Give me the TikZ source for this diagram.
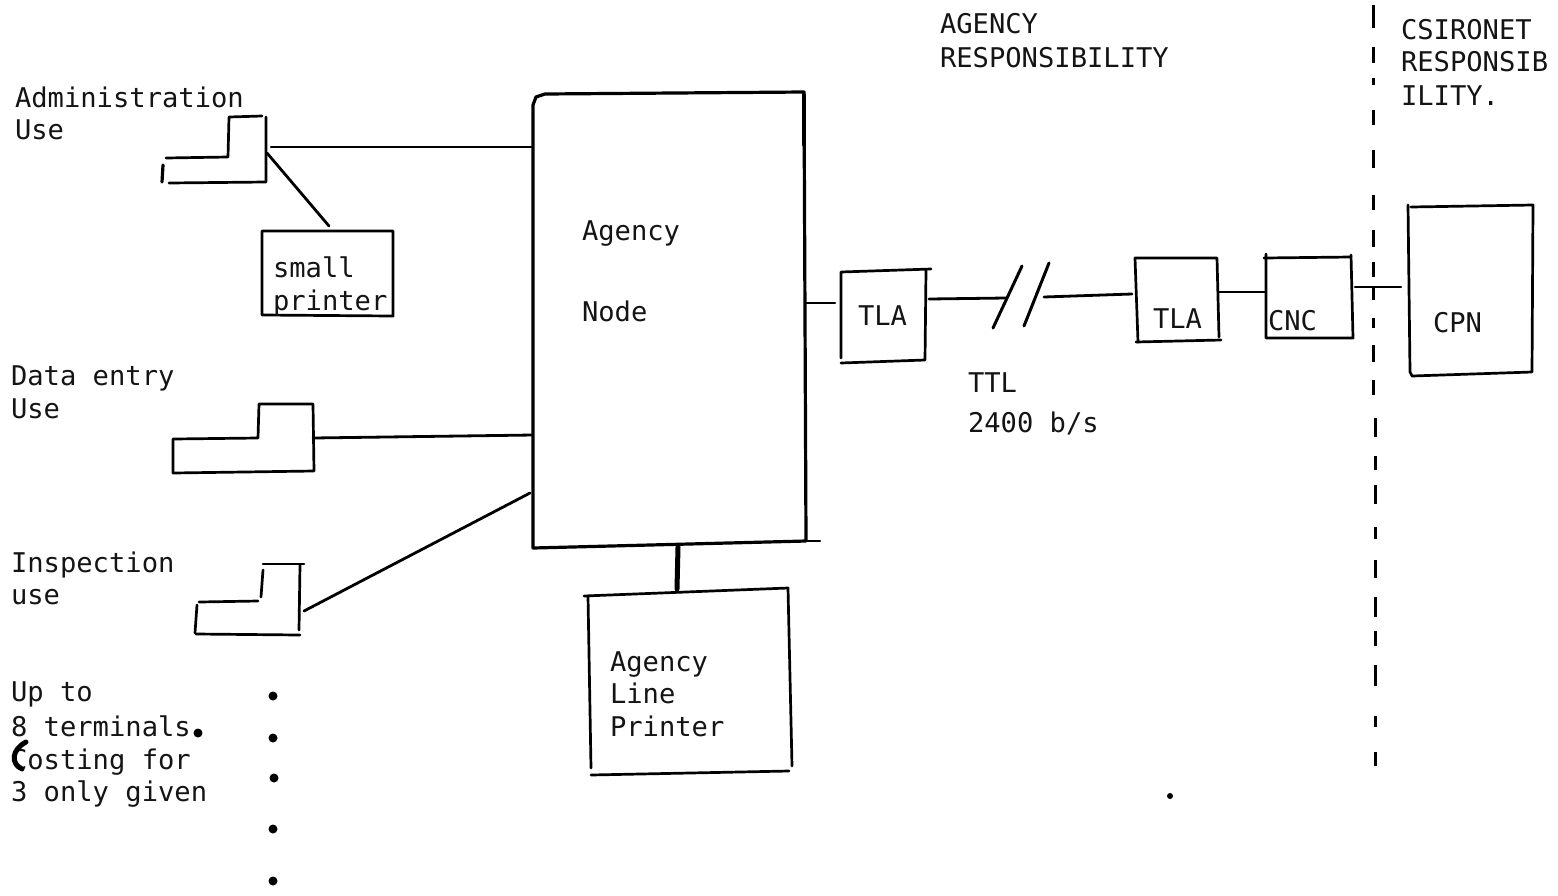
\documentclass[tikz,border=0pt]{standalone}
\usepackage{fontspec}
\setmainfont{DejaVu Sans Mono}
\begin{document}
\begin{tikzpicture}[x=1pt,y=-1pt,
  lbl/.style={inner sep=0pt,outer sep=0pt,anchor=base west,font=\fontsize{27.15}{32.6}\selectfont,text=black!92},
  boxx/.style={inner sep=0pt,outer sep=0pt},
  hand/.style={draw=black,line width=2.7pt,line join=round,line cap=round},
  wire/.style={draw=black,line width=2.4pt,line cap=round},
  dotm/.style={circle,fill=black,inner sep=0pt,minimum width=8pt,minimum height=9pt}]
\useasboundingbox (0,0) rectangle (1558,895);
% labels
\node[lbl] (l1) at (15,107) {Administration};
\node[lbl] (l1b) at (15,139) {Use};
\node[lbl] (l2) at (11,385) {Data entry};
\node[lbl] (l2b) at (11,418) {Use};
\node[lbl] (l3) at (11,572) {Inspection};
\node[lbl] (l3b) at (11,604) {use};
\node[lbl] (l4) at (11,701) {Up to};
\node[lbl] (l4b) at (11,736) {8 terminals.};
\node[lbl] (l4c) at (11,769) {Costing for};
\node[lbl] (l4d) at (11,801) {3 only given};
\node[lbl] (l5) at (940,33) {AGENCY};
\node[lbl] (l5b) at (940,67) {RESPONSIBILITY};
\node[lbl] (l6) at (1401,39) {CSIRONET};
\node[lbl] (l6b) at (1401,71) {RESPONSIB};
\node[lbl] (l6c) at (1401,105) {ILITY.};
\node[lbl] (ttl) at (968,392) {TTL};
\node[lbl] (ttlb) at (968,432) {2400 b/s};
% boxes: named frames, with the hand-drawn outlines over them
\node[boxx,minimum width=272pt,minimum height=452pt] (an) at (669,321) {};
\draw[hand,line width=3.2pt] (533,105) -- (536,97) -- (545,94) -- (804,92) -- (806,541) -- (533,548) -- cycle;
\draw[hand,line width=2pt] (806,541) -- (820,541);
\draw[hand,line width=4pt] (804,95) -- (804,145);
\node[lbl] (ant) at (582,240) {Agency};
\node[lbl] (ant2) at (582,321) {Node};
\node[boxx,minimum width=131pt,minimum height=85pt] (sp) at (327.5,273.5) {};
\draw[hand] (262,231) -- (393,231) -- (393,316) -- (262,315) -- cycle;
\node[lbl] at (273,277) {small};
\node[lbl] at (273,310) {printer};
\node[boxx,minimum width=202pt,minimum height=184pt] (lp) at (688,681) {};
\draw[hand] (584,596) -- (788,588) -- (792,766);
\draw[hand] (588,596) -- (591,768);
\draw[hand] (591,775) -- (789,771);
\node[lbl] at (610,671) {Agency};
\node[lbl] at (610,703) {Line};
\node[lbl] at (610,736) {Printer};
\node[boxx,minimum width=85pt,minimum height=92pt] (t1) at (883,316) {};
\draw[hand] (931,269) -- (841,272) -- (841,358);
\draw[hand] (926,270) -- (925,360) -- (841,363);
\node[lbl] at (858,325) {TLA};
\node[boxx,minimum width=84pt,minimum height=86pt] (t2) at (1177,301) {};
\draw[hand] (1138,342) -- (1135,258) -- (1217,258) -- (1219,337);
\draw[hand] (1136,342) -- (1221,340);
\node[lbl] at (1153,328) {TLA};
\node[boxx,minimum width=88pt,minimum height=83pt] (cnc) at (1309,297) {};
\draw[hand] (1266,254) -- (1266,338) -- (1353,338) -- (1351,255);
\draw[hand] (1264,258) -- (1351,257);
\node[lbl] at (1268,330) {CNC};
\node[boxx,minimum width=122pt,minimum height=170pt] (cpn) at (1471,290) {};
\draw[hand] (1408,205) -- (1410,372) -- (1412,376) -- (1532,372) -- (1533,205) -- (1411,207);
\node[lbl] at (1433,332) {CPN};
% terminals
\draw[hand] (166,158) -- (228,157) -- (229,117) -- (262,116);
\draw[hand] (266,117) -- (266,182) -- (169,183);
\draw[hand,line width=3.2pt] (163,165) -- (162,182);
\draw[hand] (173,439) -- (258,438) -- (259,404) -- (313,404) -- (314,471) -- (173,473) -- cycle;
\draw[hand] (199,602) -- (258,601);
\draw[hand] (263,570) -- (261,597);
\draw[hand] (263,564) -- (304,564);
\draw[hand] (300,565) -- (299,630);
\draw[hand] (196,634) -- (300,635);
\draw[hand] (197,605) -- (195,633);
\coordinate (a1) at (271,147);
\coordinate (a2) at (267,153);
\coordinate (a3) at (329,226);
\coordinate (b1) at (313,438);
\coordinate (c1) at (304,611);
\coordinate (c2) at (530,493);
\coordinate (d1) at (678,547);
\coordinate (d2) at (677,589);
\coordinate (e1) at (929,299);
\coordinate (e2) at (1006,298);
\coordinate (f1) at (1044,297);
\coordinate (f2) at (1132,294);
\coordinate (g1) at (1355,287);
\coordinate (g2) at (1401,287);
% connectors
\draw[wire] (a1) -- (an.west |- a1);
\draw[wire,line width=2.8pt] (a2) -- (a3);
\draw[wire,line width=2.8pt] (b1) -- (an.west |- 0,435);
\draw[wire,line width=2.8pt] (c1) -- (c2);
\draw[wire,line width=5pt] (d1) -- (d2);
\draw[wire] (an.east |- 0,303) -- (835,303);
\draw[wire,line width=2.8pt] (e1) -- (e2);
\draw[wire,line width=2.8pt] (f1) -- (f2);
\draw[wire,line width=3pt] (993,328) -- (1022,266);
\draw[wire,line width=3pt] (1024,326) -- (1049,263);
\draw[wire] (t2.east |- 0,292) -- (cnc.west |- 0,292);
\draw[wire] (g1) -- (g2);
% divider
\foreach \a/\b in {5/28,47/63,78/85,110/125,150/168,195/210,230/247,262/277,287/300,318/328,345/362,380/395}
  \draw[draw=black,line width=2.4pt] (1373.5,\a) -- (1373.5,\b);
\foreach \a/\b in {418/437,456/470,485/504,527/539,560/578,597/617,631/646,665/686,716/727,752/766}
  \draw[draw=black,line width=3pt] (1375.5,\a) -- (1375.5,\b);
% dots and marks
\foreach \x/\y in {273/696,273/738,274/778,273/829,273/881,198/733} \node[dotm] at (\x,\y) {};
\node[dotm,minimum width=6pt,minimum height=6pt] at (1170,796) {};
\draw[draw=black,line width=5pt,line cap=round] (26,742) .. controls (11,750) and (11,764) .. (22,769);
\end{tikzpicture}
\end{document}
